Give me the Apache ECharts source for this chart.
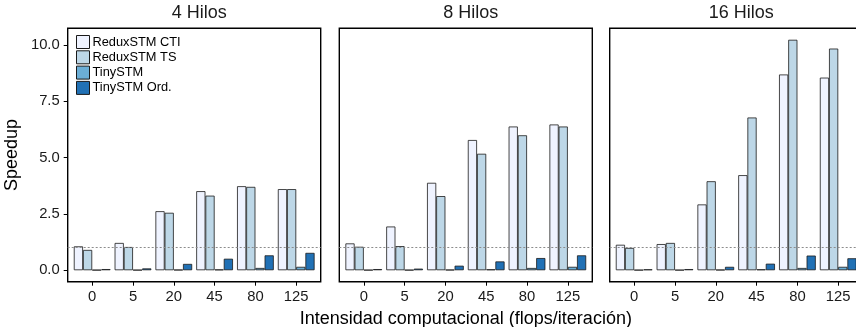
<!DOCTYPE html>
<html>
<head>
<meta charset="utf-8">
<script src="https://cdn.jsdelivr.net/npm/echarts@6/dist/echarts.min.js"></script>
<style>
  html, body { margin: 0; padding: 0; background: #fff; }
  #chart { width: 856px; height: 327px; }
</style>
</head>
<body>
<div id="chart"></div>
<script>
// Computational intensity levels (flops per iteration) on the x axis
const categories = ['0', '5', '20', '45', '80', '125'];
const panelTitles = ['4 Hilos', '8 Hilos', '16 Hilos'];
const seriesNames = ['ReduxSTM CTI', 'ReduxSTM TS', 'TinySTM', 'TinySTM Ord.'];
const yTicks = [0, 2.5, 5, 7.5, 10];

// Speedup, 4 threads
const cti4  = [1.06, 1.21, 2.62, 3.51, 3.73, 3.60];
const ts4   = [0.90, 1.03, 2.55, 3.31, 3.70, 3.60];
const tiny4 = [0.01, 0.01, 0.02, 0.03, 0.10, 0.15];
const ord4  = [0.05, 0.08, 0.28, 0.51, 0.66, 0.77];

// Speedup, 8 threads
const cti8  = [1.19, 1.94, 3.88, 5.78, 6.38, 6.47];
const ts8   = [1.04, 1.07, 3.29, 5.17, 5.99, 6.38];
const tiny8 = [0.01, 0.01, 0.02, 0.04, 0.10, 0.15];
const ord8  = [0.05, 0.07, 0.20, 0.39, 0.54, 0.66];

// Speedup, 16 threads
const cti16  = [1.13, 1.16, 2.92, 4.22, 8.69, 8.55];
const ts16   = [0.99, 1.21, 3.95, 6.78, 10.23, 9.84];
const tiny16 = [0.01, 0.01, 0.02, 0.04, 0.10, 0.15];
const ord16  = [0.04, 0.05, 0.15, 0.29, 0.65, 0.53];

const panelData = [
  [cti4, ts4, tiny4, ord4],
  [cti8, ts8, tiny8, ord8],
  [cti16, ts16, tiny16, ord16]
];

const palette = ['#eff3ff', '#bdd7e7', '#6baed6', '#2171b5'];
const FONT = 'Liberation Sans, Arial, Helvetica, sans-serif';

// Panel geometry (facet layout); the last panel runs past the right edge
const panelLeft = [67.7, 339.3, 609.7];
const panelWidth = 253;
const panelTop = 28.3;
const panelHeight = 253.4;
const catIdx = categories.map((c, i) => i);

const grids = [], xAxes = [], yAxes = [], series = [], titles = [];

panelTitles.forEach((t, p) => {
  grids.push({
    left: panelLeft[p], top: panelTop, width: panelWidth, height: panelHeight,
    outerBoundsMode: 'none',
    show: true, borderColor: '#000', borderWidth: 1.4, backgroundColor: 'transparent'
  });
  titles.push({
    text: t,
    left: panelLeft[p] + panelWidth / 2,
    textAlign: 'center',
    top: -1,
    textStyle: { fontFamily: FONT, fontSize: 18, fontWeight: 'normal', color: '#1a1a1a' }
  });
  const xa = {
    type: 'value', gridIndex: p, min: -0.6, max: 5.6,
    splitLine: { show: false },
    axisLine: { show: false, onZero: false },
    axisTick: { show: true, customValues: catIdx, length: 4, lineStyle: { color: '#000', width: 1 } },
    axisLabel: {
      customValues: catIdx,
      formatter: v => categories[Math.round(v)],
      fontFamily: FONT, fontSize: 14.8, color: '#1a1a1a', margin: 8
    }
  };
  if (p === 1) {
    xa.name = 'Intensidad computacional (flops/iteración)';
    xa.nameLocation = 'middle';
    xa.nameGap = 22;
    xa.nameTextStyle = { fontFamily: FONT, fontSize: 18, color: '#000' };
  }
  xAxes.push(xa);
  const ya = {
    type: 'value', gridIndex: p, min: -0.51, max: 10.74,
    splitLine: { show: false },
    axisLine: { show: false, onZero: false },
    axisTick: { show: p === 0, customValues: yTicks, length: 4, lineStyle: { color: '#000', width: 1 } },
    axisLabel: {
      show: p === 0, customValues: yTicks,
      formatter: v => v.toFixed(1),
      fontFamily: FONT, fontSize: 14.8, color: '#1a1a1a', margin: 8
    }
  };
  if (p === 0) {
    ya.name = 'Speedup';
    ya.nameLocation = 'middle';
    ya.nameGap = 47;
    ya.nameTextStyle = { fontFamily: FONT, fontSize: 18, color: '#000' };
  }
  yAxes.push(ya);

  panelData[p].forEach((vals, s) => {
    const ser = {
      type: 'bar',
      name: seriesNames[s],
      xAxisIndex: p, yAxisIndex: p,
      barCategoryGap: '10%',
      barGap: '0%',
      data: vals.map((v, i) => [i, v]),
      itemStyle: { color: palette[s], borderColor: '#1a1a1a', borderWidth: 0.8 },
      emphasis: { disabled: true },
      silent: true
    };
    if (s === 0) {
      // Reference line at speedup = 1
      ser.markLine = {
        silent: true, symbol: 'none',
        label: { show: false },
        lineStyle: { type: [2, 2], color: '#8c8c8c', width: 1 },
        data: [{ yAxis: 1 }]
      };
    }
    series.push(ser);
  });
});

const chart = echarts.init(document.getElementById('chart'), null, { renderer: 'canvas' });
chart.setOption({
  animation: false,
  backgroundColor: '#fff',
  textStyle: { fontFamily: FONT },
  title: titles,
  legend: {
    data: seriesNames,
    orient: 'vertical',
    left: 76, top: 35,
    padding: 0,
    itemWidth: 13, itemHeight: 13, itemGap: 1.3,
    icon: 'rect',
    selectedMode: false,
    itemStyle: { borderColor: '#1a1a1a', borderWidth: 1 },
    textStyle: { fontFamily: FONT, fontSize: 12.8, lineHeight: 13, color: '#000', padding: [0, 0, 0, -2] }
  },
  grid: grids,
  xAxis: xAxes,
  yAxis: yAxes,
  series: series
});
</script>
</body>
</html>
